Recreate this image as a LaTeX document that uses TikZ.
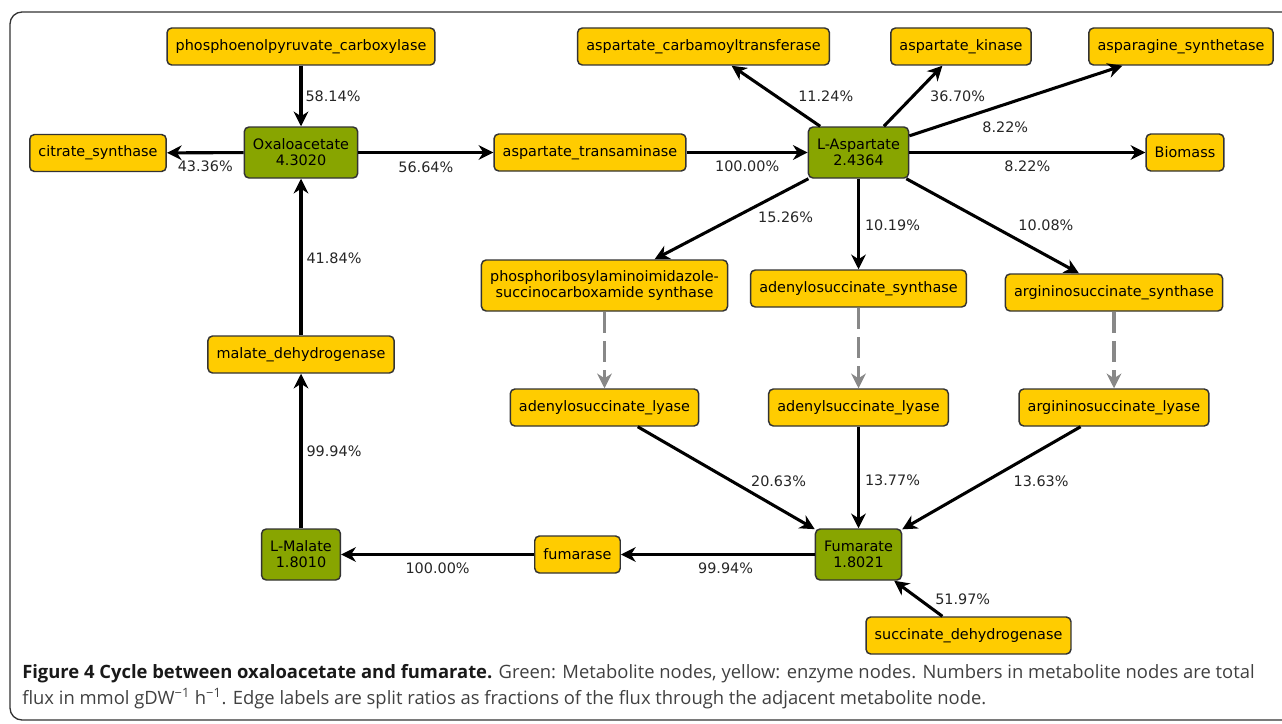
\documentclass[tikz,border=0pt]{standalone}
\usepackage{fontspec}
\setmainfont{DejaVu Sans}
\newfontfamily\capfont{Open Sans}
\usetikzlibrary{arrows.meta}
\definecolor{enzymeyellow}{RGB}{255,204,0}
\definecolor{metabgreen}{RGB}{136,165,0}
\definecolor{boxline}{RGB}{51,51,51}
\definecolor{dashgray}{RGB}{136,136,136}
\definecolor{captext}{RGB}{64,64,64}

\begin{document}
\begin{tikzpicture}[x=0.75pt, y=-0.75pt, >={Stealth[length=11pt, width=11pt, inset=3.5pt]},
    font=\fontsize{10.8}{12}\selectfont,
    enzyme/.style ={rectangle, rounded corners=3.5pt, fill=enzymeyellow, draw=boxline, line width=1.1pt,
    inner xsep=6.5pt, minimum height=27.75pt, align=center},
    metab/.style ={enzyme, fill=metabgreen, minimum height=38.25pt},
    flow/.style ={->, line width=2.3pt},
    infer/.style ={->, dashgray, line width=2.3pt, dash pattern=on 16pt off 6pt},
    lbl/.style ={inner sep=1pt, text=black!85}]
    \useasboundingbox (0,0) rectangle (1282,724);
    \draw[boxline, line width=1pt, rounded corners=9pt] (10,12) rectangle (1300,720);
    % metabolites
    \node[metab] (oxa) at (301,152.5) {Oxaloacetate\\4.3020};
    \node[metab] (asp) at (858.5,152.5) {L-Aspartate\\2.4364};
    \node[metab] (fum) at (858.5,554.5) {Fumarate\\1.8021};
    \node[metab] (mal) at (301,554.5) {L-Malate\\1.8010};
    % enzymes
    \node[enzyme] (pepc) at (301,46.5) {phosphoenolpyruvate\_carboxylase};
    \node[enzyme] (cs) at (98,153) {citrate\_synthase};
    \node[enzyme] (asptr) at (590,152.5) {aspartate\_transaminase};
    \node[enzyme] (atc) at (703.5,46.5) {aspartate\_carbamoyltransferase};
    \node[enzyme] (ak) at (961,46.5) {aspartate\_kinase};
    \node[enzyme] (asns) at (1181,46.5) {asparagine\_synthetase};
    \node[enzyme] (bio) at (1185,152.5) {Biomass};
    \node[enzyme, minimum height=38.25pt] (saics) at (604.5,285.5) {phosphoribosylaminoimidazole-\\succinocarboxamide synthase};
    \node[enzyme] (adss) at (858.5,288.5) {adenylosuccinate\_synthase};
    \node[enzyme] (ass) at (1114,292.5) {argininosuccinate\_synthase};
    \node[enzyme] (adsl) at (604.5,407.5) {adenylosuccinate\_lyase};
    \node[enzyme] (adl) at (858.5,407.5) {adenylsuccinate\_lyase};
    \node[enzyme] (asl) at (1114,407.5) {argininosuccinate\_lyase};
    \node[enzyme] (fumase) at (577.5,554.5) {fumarase};
    \node[enzyme] (sdh) at (968.5,635.5) {succinate\_dehydrogenase};
    \node[enzyme] (mdh) at (301,354.5) {malate\_dehydrogenase};
    % split ratios
    \path[flow] (pepc) edge node[lbl, pos=.5, shift={(32,0)}] {58.14\%} (oxa);
    \path[flow] (oxa) edge node[lbl, pos=.5, shift={(0,14)}] {43.36\%} (cs);
    \path[flow] (oxa) edge node[lbl, pos=.5, shift={(0,15)}] {56.64\%} (asptr);
    \path[flow] (asptr) edge node[lbl, pos=.5, shift={(0,14)}] {100.00\%} (asp);
    \path[flow] (asp) edge node[lbl, pos=.49, shift={(49,0)}] {11.24\%} (atc);
    \path[flow] (asp) edge node[lbl, pos=.49, shift={(45,0)}] {36.70\%} (ak);
    \path[flow] (asp) edge node[lbl, pos=.45, shift={(0,23)}] {8.22\%} (asns);
    \path[flow] (asp) edge node[lbl, pos=.5, shift={(0,14)}] {8.22\%} (bio);
    \path[flow] (asp) edge node[lbl, pos=.48, shift={(51,0)}] {15.26\%} (saics);
    \path[flow] (asp) edge node[lbl, pos=.51, shift={(34,0)}] {10.19\%} (adss);
    \path[flow] (asp) edge node[lbl, pos=.49, shift={(55,0)}] {10.08\%} (ass);
    \path[infer] (saics) edge (adsl);
    \path[infer] (adss) edge (adl);
    \path[infer] (ass) edge (asl);
    \path[flow] (adsl) edge node[lbl, pos=.53, shift={(47,0)}] {20.63\%} (fum);
    \path[flow] (adl) edge node[lbl, pos=.53, shift={(34,0)}] {13.77\%} (fum);
    \path[flow] (asl) edge node[lbl, pos=.53, shift={(55,0)}] {13.63\%} (fum);
    \path[flow] (sdh) edge node[lbl, pos=.49, shift={(44,0)}] {51.97\%} (fum);
    \path[flow] (fum) edge node[lbl, pos=.46, shift={(0,14)}] {99.94\%} (fumase);
    \path[flow] (fumase) edge node[lbl, pos=.5, shift={(0,14)}] {100.00\%} (mal);
    \path[flow] (mal) edge node[lbl, pos=.5, shift={(33,0)}] {99.94\%} (mdh);
    \path[flow] (mdh) edge node[lbl, pos=.49, shift={(33,0)}] {41.84\%} (oxa);
    % caption
    \node[anchor=north west, inner sep=0pt, align=left, text=captext,
    font=\capfont\fontsize{13.8}{19.5}\selectfont] (cap) at (22,664)
    {{\bfseries\color{black!90}Figure 4 Cycle between oxaloacetate and fumarate.} Green: Metabolite nodes, yellow: enzyme nodes. Numbers in metabolite nodes are total\\
    flux in mmol gDW\textsuperscript{−1} h\textsuperscript{−1}. Edge labels are split ratios as fractions of the flux through the adjacent metabolite node.};
\end{tikzpicture}
\end{document}
